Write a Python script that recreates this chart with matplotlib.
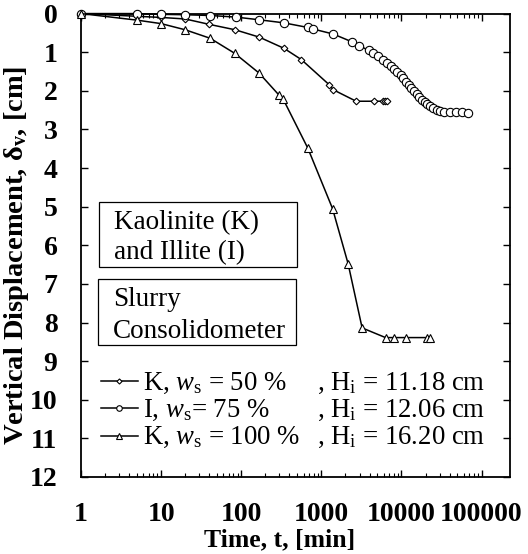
import numpy as np
import matplotlib
matplotlib.use("Agg")
import matplotlib.pyplot as plt
from matplotlib.patches import Rectangle
from matplotlib.ticker import FixedLocator, NullFormatter, FuncFormatter

plt.rcParams['font.family'] = ['Liberation Serif', 'DejaVu Serif']
plt.rcParams['mathtext.fontset'] = 'custom'
plt.rcParams['mathtext.rm'] = 'Liberation Serif'
plt.rcParams['mathtext.it'] = 'Liberation Serif:italic'
plt.rcParams['mathtext.bf'] = 'Liberation Serif:bold'

# K, ws = 50 %  (diamonds)
t_k50 = [1, 5, 10, 20, 40, 84, 168, 342, 562, 1250, 1400, 2720, 4530, 5820, 6220, 6530]
d_k50 = [0, 0.07, 0.10, 0.14, 0.28, 0.42, 0.61, 0.90, 1.19, 1.84, 1.97, 2.27, 2.27, 2.27, 2.27, 2.27]

# I, ws = 75 %  (circles)
t_i75 = [1, 5, 10, 20, 41, 85, 167, 340, 680, 790, 1410, 2400, 2960, 3880,
         4440, 5130, 5925, 6645, 7330, 8055, 8860, 9770, 10530, 11380, 12300,
         13260, 14320, 15490, 16690, 18030, 19500, 21010, 22700, 24970, 27540,
         30270, 33960, 40360, 47970, 57020, 68390]
d_i75 = [0, 0.0, 0.02, 0.03, 0.05, 0.09, 0.16, 0.24, 0.36, 0.40, 0.53, 0.73, 0.83, 0.95,
         1.01, 1.10, 1.19, 1.29, 1.35, 1.43, 1.51, 1.60, 1.68, 1.77, 1.84,
         1.94, 2.01, 2.09, 2.17, 2.23, 2.30, 2.35, 2.40, 2.45, 2.49,
         2.53, 2.55, 2.56, 2.56, 2.56, 2.58]

# K, ws = 100 %  (triangles)
t_k100 = [1, 5, 10, 20, 41, 83, 167, 293, 333, 680, 1380, 2160, 3230, 6330, 7960, 11300, 20800, 22900]
d_k100 = [0, 0.17, 0.26, 0.42, 0.64, 1.03, 1.54, 2.10, 2.21, 3.49, 5.05, 6.48, 8.14, 8.39, 8.39, 8.39, 8.39, 8.39]

labels_a = ["K, $w_\\mathrm{s}$ = 50 %", "I, $w_\\mathrm{s}$= 75 %", "K, $w_\\mathrm{s}$ = 100 %"]
labels_b = [", H$_\\mathrm{i}$ = 11.18 cm", ", H$_\\mathrm{i}$ = 12.06 cm", ", H$_\\mathrm{i}$ = 16.20 cm"]

fig = plt.figure(figsize=(5.28, 5.54), dpi=100)
ax = fig.add_axes([0.1534, 0.139, 0.8125, 0.8365])

series = [
    (t_k50, d_k50, 'D', 3.4),
    (t_i75, d_i75, 'o', 6.0),
    (t_k100, d_k100, '^', 5.5),
]
for t, d, m, ms in series:
    ax.plot(t, d, color='black', lw=1.1, marker=m, ms=ms, mfc='white',
            mec='black', mew=0.8, clip_on=False, zorder=3)

ax.set_xscale('log')
ax.set_xlim(1, 10 ** 5.355)
ax.set_ylim(12, 0)

ax.xaxis.set_major_locator(FixedLocator([10.0 ** k for k in range(6)]))
ax.xaxis.set_major_formatter(FuncFormatter(lambda v, p: "%d" % round(v)))
ax.xaxis.set_minor_locator(FixedLocator([m * 10.0 ** k for k in range(5) for m in range(2, 10)]))
ax.xaxis.set_minor_formatter(NullFormatter())
ax.set_yticks(range(0, 13))

ax.tick_params(axis='both', which='major', direction='in', top=True, right=True,
               length=5, width=1.0, labelsize=20)
ax.tick_params(axis='x', which='minor', direction='in', top=True, length=3, width=0.8)
ax.tick_params(axis='y', which='major', pad=17)
ax.tick_params(axis='x', which='major', pad=18)
for lab in ax.get_xticklabels() + ax.get_yticklabels():
    lab.set_fontweight('bold')
for sp in ax.spines.values():
    sp.set_linewidth(1.3)

ax.set_xlabel("Time, t, [min]", fontsize=18.5, fontweight='bold')
ax.xaxis.set_label_coords(0.464, -0.11)
ax.set_ylabel("Vertical Displacement, δ$_\\mathbf{v}$, [cm]", fontsize=20.5, fontweight='bold')
ax.yaxis.set_label_coords(-0.117, 0.479)

# text boxes
ax.add_patch(Rectangle((0.0427, 0.4537), 0.4615, 0.1403, transform=ax.transAxes,
                       fill=False, ec='black', lw=0.9))
ax.text(0.0776, 0.534, "Kaolinite (K)", transform=ax.transAxes, fontsize=19.5, va='baseline')
ax.text(0.0776, 0.470, "and Illite (I)", transform=ax.transAxes, fontsize=19.5, va='baseline')
ax.add_patch(Rectangle((0.0389, 0.2848), 0.4622, 0.1417, transform=ax.transAxes,
                       fill=False, ec='black', lw=0.9))
ax.text(0.074, 0.369, "Slurry", transform=ax.transAxes, fontsize=19.5, va='baseline')
ax.text(0.074, 0.3005, "Consolidometer", transform=ax.transAxes, fontsize=19.5, va='baseline')

# legend drawn by hand to keep the two text columns aligned
row_y = [0.207, 0.148, 0.0885]
leg_ms = [2.6, 4.0, 4.2]
for (t, d, m, ms), y, la, lb, lms in zip(series, row_y, labels_a, labels_b, leg_ms):
    ax.plot([0.0466, 0.0893, 0.1336], [y, y, y], transform=ax.transAxes, color='black',
            lw=1.1, marker=m, ms=lms, mfc='white', mec='black', mew=0.8, markevery=[1])
    ax.text(0.145, y - 0.018, la, transform=ax.transAxes, fontsize=19.3, va='baseline')
    ax.text(0.549, y - 0.018, lb, transform=ax.transAxes, fontsize=19.3, va='baseline')

fig.savefig("out.png", dpi=100)
